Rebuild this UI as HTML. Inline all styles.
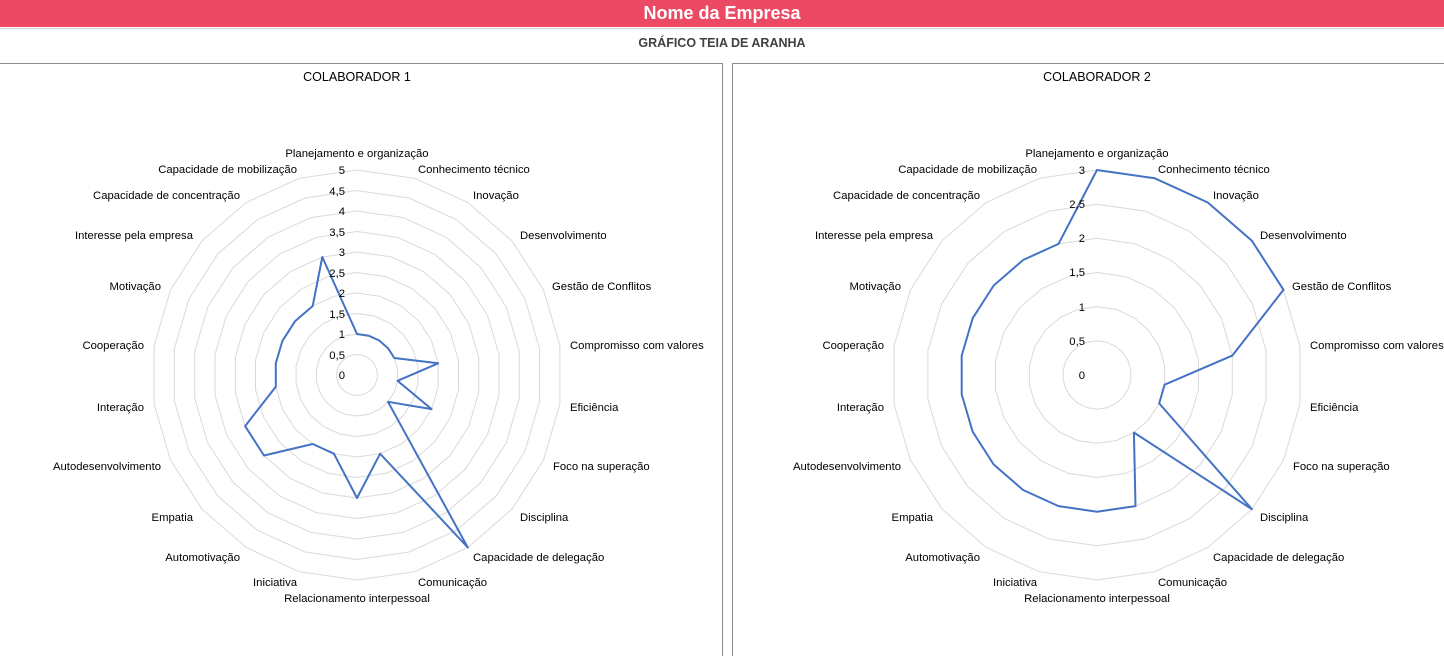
<!DOCTYPE html>
<html><head><meta charset="utf-8"><style>
body{margin:0;width:1444px;height:656px;overflow:hidden;background:#fff;font-family:"Liberation Sans",sans-serif;position:relative}
#hdr{position:absolute;left:0;top:0;width:1444px;height:27px;background:#ec4a64;color:#fff;font-weight:bold;font-size:18px;text-align:center;line-height:26px}
#sub{position:absolute;left:0;top:36px;width:1444px;text-align:center;font-weight:bold;font-size:12.5px;color:#404040}
svg{position:absolute;left:0;top:0}
text{font-family:"Liberation Sans",sans-serif;font-size:11.3px;fill:#000}
</style></head><body>
<div id="hdr">Nome da Empresa</div>
<div id="sub">GRÁFICO TEIA DE ARANHA</div>
<svg width="1444" height="656" id="s">
<line x1="0" y1="28.5" x2="1444" y2="28.5" stroke="#d0d0d0"/>
<path d="M0 63.5H722.5V656" fill="none" stroke="#8c8c8c"/>
<path d="M732.5 656V63.5H1444" fill="none" stroke="#8c8c8c"/>
<g id="g1"></g><g id="g2"></g>
<text x="357" y="81" text-anchor="middle" style="font-size:12.5px">COLABORADOR 1</text>
<text x="1097" y="81" text-anchor="middle" style="font-size:12.5px">COLABORADOR 2</text>
<g id="L1">
<text x="357" y="157" text-anchor="middle">Planejamento e organização</text>
<text x="418" y="173">Conhecimento técnico</text>
<text x="473" y="199">Inovação</text>
<text x="520" y="239">Desenvolvimento</text>
<text x="552" y="290">Gestão de Conflitos</text>
<text x="570" y="349">Compromisso com valores</text>
<text x="570" y="411">Eficiência</text>
<text x="553" y="470">Foco na superação</text>
<text x="520" y="521">Disciplina</text>
<text x="473" y="561">Capacidade de delegação</text>
<text x="418" y="586">Comunicação</text>
<text x="357" y="602" text-anchor="middle">Relacionamento interpessoal</text>
<text x="297" y="586" text-anchor="end">Iniciativa</text>
<text x="240" y="561" text-anchor="end">Automotivação</text>
<text x="193" y="521" text-anchor="end">Empatia</text>
<text x="161" y="470" text-anchor="end">Autodesenvolvimento</text>
<text x="144" y="411" text-anchor="end">Interação</text>
<text x="144" y="349" text-anchor="end">Cooperação</text>
<text x="161" y="290" text-anchor="end">Motivação</text>
<text x="193" y="239" text-anchor="end">Interesse pela empresa</text>
<text x="240" y="199" text-anchor="end">Capacidade de concentração</text>
<text x="297" y="173" text-anchor="end">Capacidade de mobilização</text>
</g>
<g transform="translate(740,0)">
<text x="357" y="157" text-anchor="middle">Planejamento e organização</text>
<text x="418" y="173">Conhecimento técnico</text>
<text x="473" y="199">Inovação</text>
<text x="520" y="239">Desenvolvimento</text>
<text x="552" y="290">Gestão de Conflitos</text>
<text x="570" y="349">Compromisso com valores</text>
<text x="570" y="411">Eficiência</text>
<text x="553" y="470">Foco na superação</text>
<text x="520" y="521">Disciplina</text>
<text x="473" y="561">Capacidade de delegação</text>
<text x="418" y="586">Comunicação</text>
<text x="357" y="602" text-anchor="middle">Relacionamento interpessoal</text>
<text x="297" y="586" text-anchor="end">Iniciativa</text>
<text x="240" y="561" text-anchor="end">Automotivação</text>
<text x="193" y="521" text-anchor="end">Empatia</text>
<text x="161" y="470" text-anchor="end">Autodesenvolvimento</text>
<text x="144" y="411" text-anchor="end">Interação</text>
<text x="144" y="349" text-anchor="end">Cooperação</text>
<text x="161" y="290" text-anchor="end">Motivação</text>
<text x="193" y="239" text-anchor="end">Interesse pela empresa</text>
<text x="240" y="199" text-anchor="end">Capacidade de concentração</text>
<text x="297" y="173" text-anchor="end">Capacidade de mobilização</text>
</g>
<g text-anchor="end">
<text x="345" y="379">0</text><text x="345" y="359">0,5</text><text x="345" y="338">1</text><text x="345" y="318">1,5</text><text x="345" y="297">2</text><text x="345" y="277">2,5</text><text x="345" y="256">3</text><text x="345" y="236">3,5</text><text x="345" y="215">4</text><text x="345" y="195">4,5</text><text x="345" y="174">5</text>
<text x="1085" y="379">0</text><text x="1085" y="345">0,5</text><text x="1085" y="311">1</text><text x="1085" y="276">1,5</text><text x="1085" y="242">2</text><text x="1085" y="208">2,5</text><text x="1085" y="174">3</text>
</g>
</svg>
<script>
var NS="http://www.w3.org/2000/svg",N=22,R=205;
function pts(cx,cy,vals,max){return vals.map(function(v,i){var a=i*2*Math.PI/N,r=R*v/max;return (cx+r*Math.sin(a)).toFixed(1)+","+(cy-r*Math.cos(a)).toFixed(1)}).join(" ")}
function chart(g,cx,cy,max,levels,vals){
 g=document.getElementById(g);
 for(var k=1;k<=levels;k++){var p=document.createElementNS(NS,"polygon");var a=[];for(var i=0;i<N;i++)a.push(max*k/levels);p.setAttribute("points",pts(cx,cy,a,max));p.setAttribute("fill","none");p.setAttribute("stroke","#d9d9d9");p.setAttribute("stroke-width","1");g.appendChild(p);}
 var q=document.createElementNS(NS,"polygon");q.setAttribute("points",pts(cx,cy,vals,max));q.setAttribute("fill","none");q.setAttribute("stroke","#4472c4");q.setAttribute("stroke-width","2");q.setAttribute("stroke-linejoin","round");g.appendChild(q);
}
chart("g1",357,375,5,10,[1,1,1,1,1,2,1,2,1,5,2,3,2,2,3,3,2,2,2,2,2,3]);
chart("g2",1097,375,3,6,[3,3,3,3,3,2,1,1,3,1,2,2,2,2,2,2,2,2,2,2,2,2]);
</script>
</body></html>
